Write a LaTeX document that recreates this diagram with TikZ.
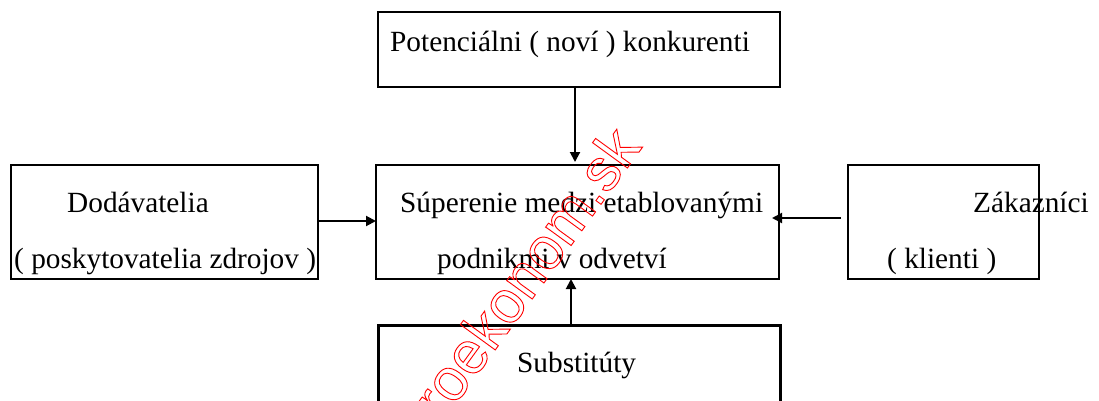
\documentclass[tikz,border=0pt]{standalone}
\usepackage{fontspec}
\setmainfont{Liberation Serif}
\newfontfamily\wmfont{Liberation Sans}
\usetikzlibrary{arrows.meta}
\newcommand{\outlinetxt}[1]{\special{pdf:literal direct 1 Tr 0.9 w}#1\special{pdf:literal direct 0 Tr}}
\tikzset{
  box/.style={draw, line width=2pt, inner sep=0pt, outer sep=0pt},
  lbl/.style={inner sep=0pt, anchor=base west, font=\fontsize{29.3}{34}\selectfont},
  conn/.style={line width=2pt, -{Triangle[length=10pt,width=10pt]}},
  wm/.style={inner sep=0pt, anchor=base east, rotate=54, text=red, font=\wmfont\fontsize{59.5}{64}\selectfont}
}
\begin{document}
\begin{tikzpicture}[x=1pt,y=-1pt]
\useasboundingbox (0,0) rectangle (1099,401);
\clip (0,0) rectangle (1099,401);
\fill[white] (0,0) rectangle (1099,401);
% boxes
\node[box, minimum width=402pt, minimum height=75pt] (top) at (579,49.5) {};
\node[box, minimum width=403pt, minimum height=114pt] (mid) at (577.5,222) {};
\node[box, minimum width=307pt, minimum height=114pt] (left) at (164.5,222) {};
\node[box, minimum width=191pt, minimum height=114pt] (right) at (943.5,222) {};
\node[box, line width=3pt, minimum width=402pt, minimum height=115pt] (bot) at (579,382.5) {};
% labels
\node[lbl] (t1) at (390,52) {Potenciálni ( noví ) konkurenti};
\node[lbl] (l1) at (67,212) {Dodávatelia};
\node[lbl] (l2) at (14,268) {( poskytovatelia zdrojov )};
\node[lbl] (m1) at (400,212) {Súperenie medzi etablovanými};
\node[lbl] (m2) at (437,268) {podnikmi v odvetví};
\node[lbl] (r1) at (973,212) {Zákazníci};
\node[lbl] (r2) at (887,268) {( klienti )};
\node[lbl] (b1) at (517,372) {Substitúty};
% connectors
\draw[conn, shorten >=3pt] ([xshift=-4pt]top.south) -- ([xshift=-4pt]top.south |- mid.north);
\draw[conn] ([yshift=1pt]left.east) -- ([yshift=1pt]left.east -| mid.west);
\draw[conn] ([shift={(-7pt,4pt)}]right.west) -- ([shift={(-7pt,4pt)}]right.west -| mid.east);
\draw[conn] ([xshift=-8pt]bot.north) -- ([xshift=-8pt]bot.north |- mid.south);
% watermark
\node[wm] (wm) at (642.7,147) {\outlinetxt{mikroekonom.sk}};
\end{tikzpicture}
\end{document}
